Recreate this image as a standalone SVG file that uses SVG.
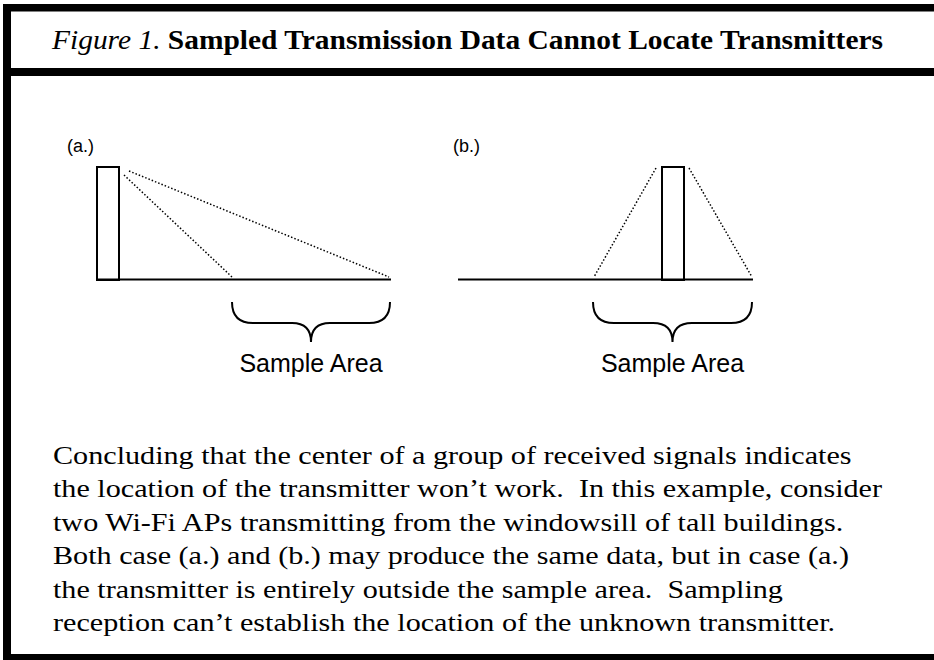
<svg xmlns="http://www.w3.org/2000/svg" width="934" height="660" viewBox="0 0 934 660">
<style>
.frame{fill:#000}
.body{font-family:"Liberation Serif","Times New Roman",serif;font-size:26px;fill:#000;white-space:pre}
.sans{font-family:"Liberation Sans",Arial,sans-serif;fill:#000}
.solid{fill:none;stroke:#000;stroke-width:2}
.dot{fill:none;stroke:#000;stroke-width:1.5;stroke-dasharray:1.5 2}
</style>
<rect width="934" height="660" fill="#fff"/>
<g id="frame">
<rect class="frame" x="3" y="4" width="931" height="7.5"/>
<rect class="frame" x="3" y="4" width="8" height="656"/>
<rect class="frame" x="3" y="68" width="931" height="8"/>
<rect class="frame" x="3" y="654" width="931" height="6"/>
</g>
<g id="title">
<text x="52" y="49" textLength="831" lengthAdjust="spacingAndGlyphs" style="font-family:'Liberation Serif','Times New Roman',serif;font-size:28px;fill:#000"><tspan font-style="italic">Figure 1.</tspan> <tspan font-weight="bold">Sampled Transmission Data Cannot Locate Transmitters</tspan></text>
</g>
<g id="panel-a">
<text class="sans" x="67" y="152" font-size="18">(a.)</text>
<rect class="solid" x="97" y="167" width="22" height="113"/>
<line class="solid" x1="96" y1="279.5" x2="391" y2="279.5"/>
<line class="dot" x1="124" y1="175" x2="232" y2="277"/>
<line class="dot" x1="129" y1="171" x2="389" y2="277"/>
<path class="solid" d="M232,302 Q232,323 253,323 L292,323 Q311,323 311,342 Q311,323 330,323 L369,323 Q390,323 390,302"/>
<text class="sans" x="311" y="372" font-size="25" text-anchor="middle">Sample Area</text>
</g>
<g id="panel-b">
<text class="sans" x="453" y="152" font-size="18">(b.)</text>
<line class="solid" x1="458" y1="279.5" x2="753" y2="279.5"/>
<rect class="solid" x="662" y="167" width="22" height="113"/>
<line class="dot" x1="656" y1="168" x2="594" y2="277"/>
<line class="dot" x1="689" y1="168" x2="752" y2="277"/>
<path class="solid" d="M593,302 Q593,323 614,323 L653,323 Q672.5,323 672.5,342 Q672.5,323 692,323 L731,323 Q752,323 752,302"/>
<text class="sans" x="672.5" y="372" font-size="25" text-anchor="middle">Sample Area</text>
</g>
<g id="caption" transform="translate(53 0) scale(1.16 1)">
<text class="body" x="0" y="464">Concluding that the center of a group of received signals indicates</text>
<text class="body" x="0" y="497.4">the location of the transmitter won’t work.  In this example, consider</text>
<text class="body" x="0" y="530.8">two Wi-Fi APs transmitting from the windowsill of tall buildings.</text>
<text class="body" x="0" y="564.2">Both case (a.) and (b.) may produce the same data, but in case (a.)</text>
<text class="body" x="0" y="597.6">the transmitter is entirely outside the sample area.  Sampling</text>
<text class="body" x="0" y="631">reception can’t establish the location of the unknown transmitter.</text>
</g>
</svg>
